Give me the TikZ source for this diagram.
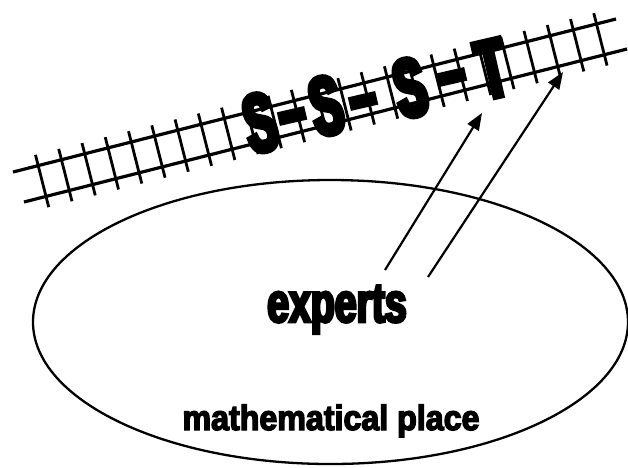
\documentclass[tikz,border=0pt]{standalone}
\usepackage{fontspec}
\setmainfont{Liberation Sans}
\newfontface\sstfont[FakeStretch=0.55,FakeBold=7]{Liberation Sans Bold}
\newfontface\expfont[FakeStretch=0.70,FakeBold=5]{Liberation Sans Bold}
\newfontface\placefont[FakeStretch=0.92,FakeBold=4]{Liberation Sans Bold}
\usetikzlibrary{arrows.meta,shapes.geometric}
\tikzset{
  rail/.style={line width=3.2pt},
  tie/.style={line width=2.8pt},
  sstchar/.style={inner sep=0pt,anchor=base,rotate=13,font=\sstfont\fontsize{82}{82}\selectfont},
  arrowline/.style={line width=2.2pt,-{Triangle[length=17pt,width=13pt]}},
}
\begin{document}
\begin{tikzpicture}[x=1pt,y=-1pt]
\useasboundingbox (0,0) rectangle (628,467);
\fill[white] (0,0) rectangle (628,467);
% ellipse
\node[draw,line width=2.3pt,ellipse,inner sep=0pt,minimum width=595pt,minimum height=284pt] (place) at (330.5,322) {};
% rails
\coordinate (r1a) at (13,172);
\coordinate (r1b) at (616,19);
\coordinate (r2a) at (24,202);
\coordinate (r2b) at (627,49);
\draw[rail] (r1a) -- (r1b);
\draw[rail] (r2a) -- (r2b);
% ties
\foreach \k in {0,...,24}{
  \pgfmathsetmacro{\s}{26+24*\k}
  \draw[tie] ({16.9+\s*0.9693-27*0.2459},{187.4-\s*0.2459-27*0.9693}) -- ({16.9+\s*0.9693+27*0.2459},{187.4-\s*0.2459+27*0.9693});
}
% S-S-S-T
\node[sstchar] (s1) at (266.5,150.3) {S};
\node[sstchar] (d1) at (297,137.4) {–};
\node[sstchar] (s2) at (332.5,133.3) {S};
\node[sstchar] (d2) at (368,122.4) {–};
\node[sstchar] (s3) at (416.5,115.3) {S};
\node[sstchar] (d3) at (457,98.4) {–};
\node[sstchar] (t) at (498.5,96.3) {T};
% texts
\node[inner sep=0pt,anchor=base,font=\expfont\fontsize{56}{56}\selectfont] (experts) at (337,322) {experts};
\node[inner sep=0pt,anchor=base,font=\placefont\fontsize{35}{35}\selectfont] (mplace) at (331,430) {mathematical place};
% arrows
\coordinate (a1s) at (385,270);
\coordinate (a1e) at (482,113);
\coordinate (a2s) at (428,277);
\coordinate (a2e) at (563,72);
\draw[arrowline] (a1s) -- (a1e);
\draw[arrowline] (a2s) -- (a2e);
\end{tikzpicture}
\end{document}
